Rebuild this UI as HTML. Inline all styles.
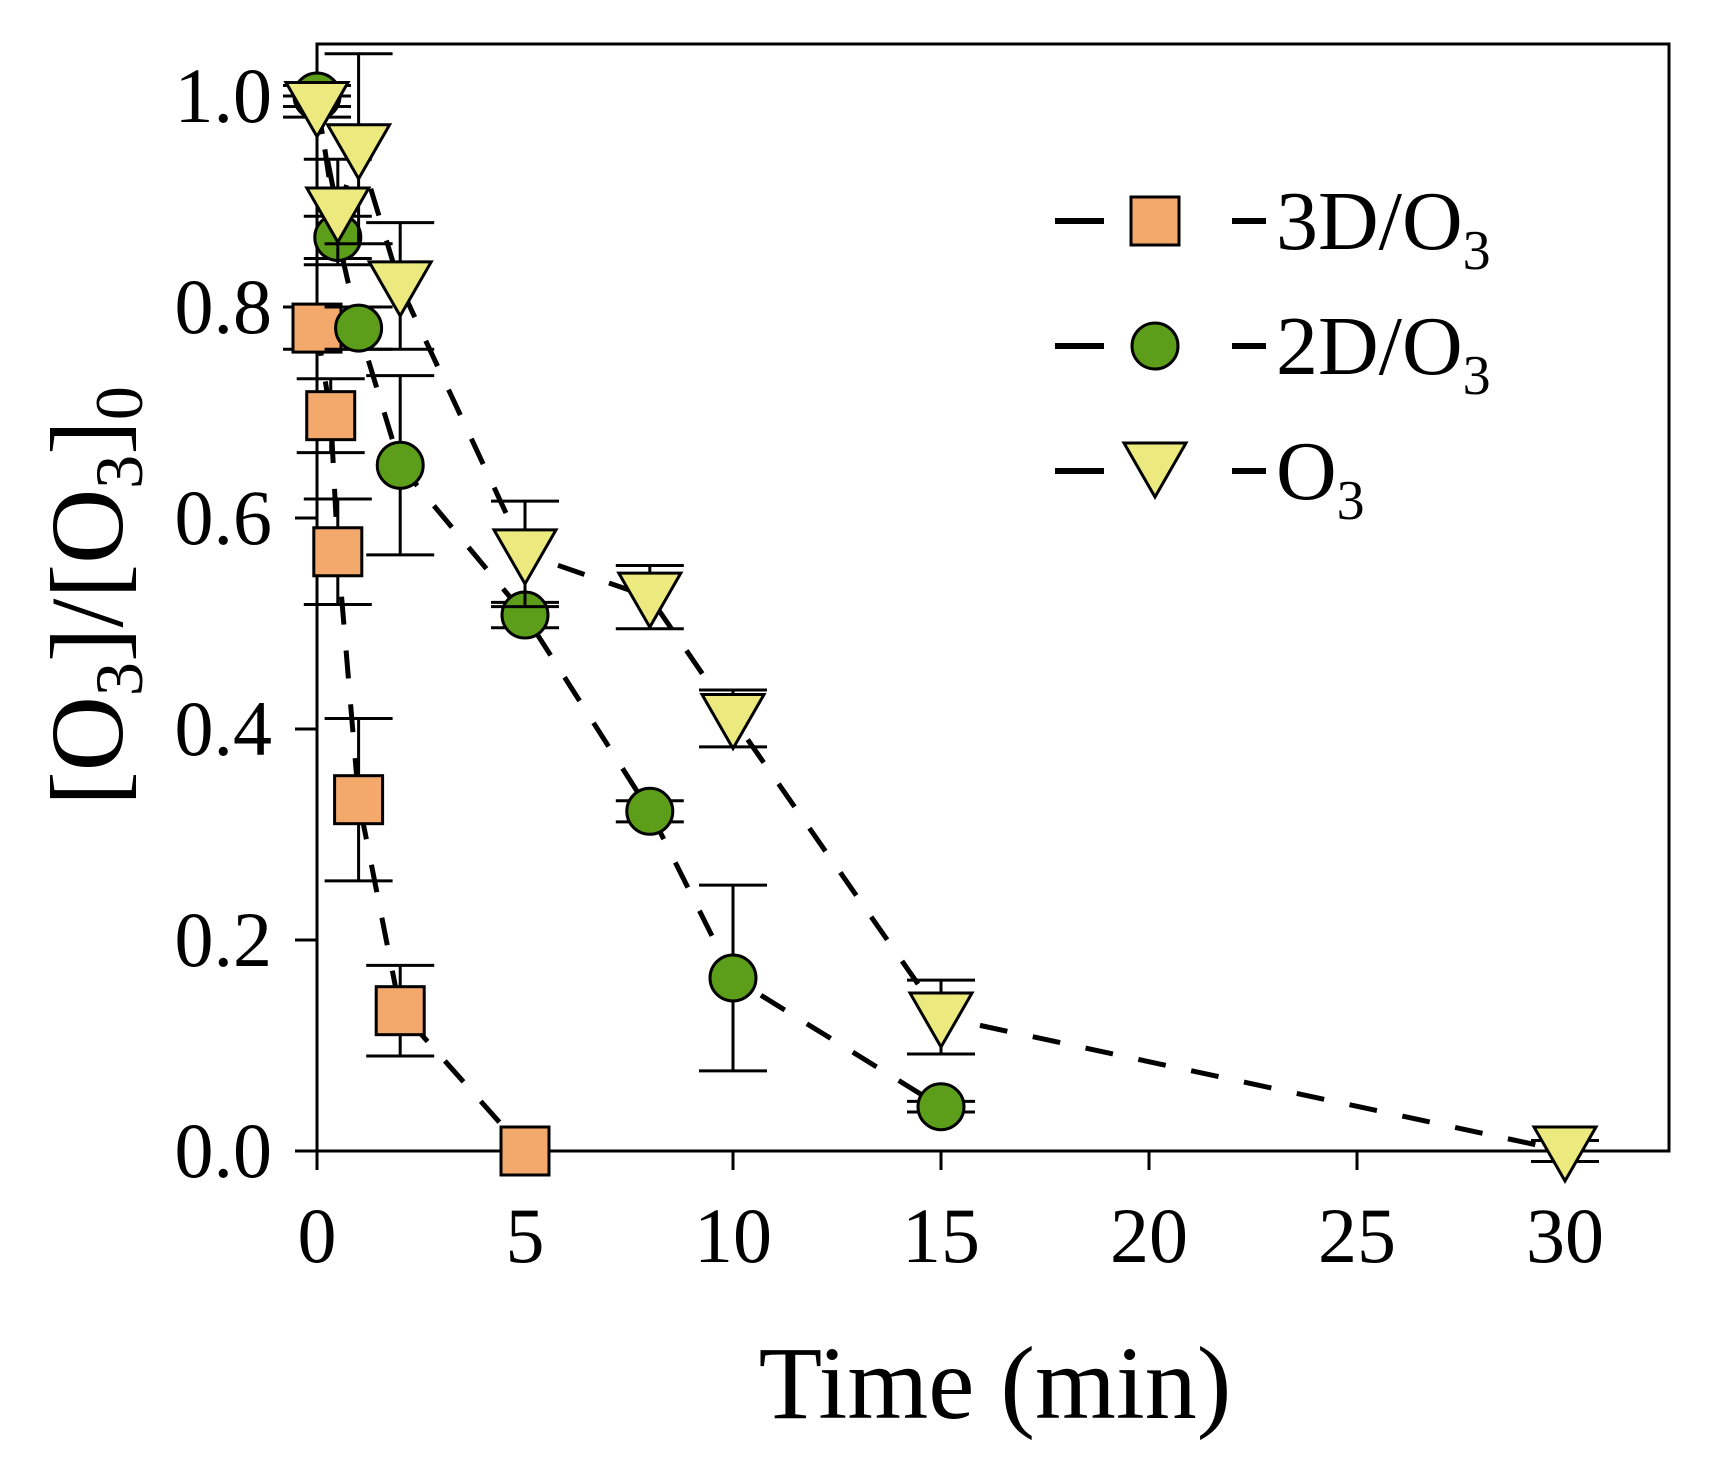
<!DOCTYPE html>
<html><head><meta charset="utf-8"><style>body{margin:0;background:#fff}svg{display:block}</style></head>
<body>
<svg width="1713" height="1457" viewBox="0 0 1713 1457" xmlns="http://www.w3.org/2000/svg" font-family="Liberation Serif, serif">
<g id="axes"></g>
<g id="series"></g>
<g id="legend"></g>
<text x="995" y="1418" font-size="104" text-anchor="middle">Time (min)</text>
<text transform="translate(122,596) rotate(-90)" font-size="104" text-anchor="middle">[O<tspan font-size="68" dy="20">3</tspan><tspan dy="-20">]/[O</tspan><tspan font-size="68" dy="20">3</tspan><tspan dy="-20">]</tspan><tspan font-size="68" dy="20">0</tspan></text>
<script>
const xTicks=[0,5,10,15,20,25,30];
const yTicks=[0,0.2,0.4,0.6,0.8,1.0];
const t3D=[0,0.33,0.5,1,2,5];
const v3D=[0.78,0.697,0.568,0.333,0.133,0];
const e3D=[0.02,0.035,0.05,0.077,0.043,0];
const t2D=[0,0.5,1,2,5,8,10,15];
const v2D=[1.0,0.866,0.78,0.65,0.508,0.322,0.164,0.042];
const e2D=[0.01,0.02,0.02,0.085,0.012,0.01,0.088,0.005];
const tO3=[0,0.5,1,2,5,8,10,15,30];
const vO3=[0.99,0.89,0.95,0.82,0.566,0.525,0.41,0.127,0];
const eO3=[0.01,0.05,0.09,0.06,0.05,0.03,0.027,0.035,0.01];
const NS='http://www.w3.org/2000/svg';
const X=t=>317+t*(1565-317)/30;
const Y=v=>1151-v*(1151-96);
function mk(tag,attrs,parent){const e=document.createElementNS(NS,tag);for(const k in attrs)e.setAttribute(k,attrs[k]);parent.appendChild(e);return e;}
const ax=document.getElementById('axes');
let f=mk('rect',{x:317,y:44,width:1352,height:1107,fill:'none',stroke:'#000','stroke-width':3},ax);


xTicks.forEach(t=>{
 let l=mk('line',{x1:X(t),x2:X(t),y1:1151,y2:1170,stroke:'#000','stroke-width':3},ax);
 
 
 let tx=mk('text',{x:X(t),y:1262,'font-size':78,'text-anchor':'middle'},ax);tx.textContent=t;
 
 
});
yTicks.forEach(v=>{
 let l=mk('line',{x1:295,x2:317,y1:Y(v),y2:Y(v),stroke:'#000','stroke-width':3},ax);
 
 
 let tx=mk('text',{x:272,y:Y(v)+26,'font-size':78,'text-anchor':'end'},ax);tx.textContent=v.toFixed(1);
 
 
});
const sg=document.getElementById('series');
function marker(shape,cx,cy,fill,g){
 if(shape==='sq')return mk('rect',{x:cx-24,y:cy-24,width:48,height:48,fill:fill,stroke:'#000','stroke-width':3},g);
 if(shape==='ci')return mk('circle',{cx:cx,cy:cy,r:23,fill:fill,stroke:'#000','stroke-width':3},g);
 return mk('polygon',{points:`${cx-31},${cy-24} ${cx+31},${cy-24} ${cx},${cy+30}`,fill:fill,stroke:'#000','stroke-width':3},g);
}
function series(name,ts,vs,es,shape,fill){
 const g=mk('g',{},sg);
 
 
 let p=mk('polyline',{points:ts.map((t,i)=>X(t)+','+Y(vs[i])).join(' '),fill:'none',stroke:'#000','stroke-width':5,'stroke-dasharray':'28,26'},g);
 
 
 ts.forEach((t,i)=>{
  const x=X(t),y1=Y(vs[i]+es[i]),y2=Y(vs[i]-es[i]);
  const eb=mk('path',{d:`M${x},${y1}V${y2}M${x-34},${y1}H${x+34}M${x-34},${y2}H${x+34}`,stroke:'#000','stroke-width':3,fill:'none'},g);
  
  
 });
 ts.forEach((t,i)=>{
  const m=marker(shape,X(t),Y(vs[i]),fill,g);
  
  
 });
}
series('3d-o3',t3D,v3D,e3D,'sq','#f4a96c');
series('2d-o3',t2D,v2D,e2D,'ci','#5c9e1a');
series('o3',tO3,vO3,eO3,'tr','#ecea7e');
const lg=document.getElementById('legend');
[['sq','#f4a96c','3D/O'],['ci','#5c9e1a','2D/O'],['tr','#ecea7e','O']].forEach((d,i)=>{
 const y=221+i*125;
 const g=mk('g',{},lg);
 
 
 mk('path',{d:`M1055,${y}H1104M1232,${y}H1266`,stroke:'#000','stroke-width':6},g);
 marker(d[0],1155,d[0]==='tr'?y-4:y,d[1],g);
 const t=mk('text',{x:1276,y:y+28,'font-size':84},g);
 t.appendChild(document.createTextNode(d[2]));
 const s=mk('tspan',{'font-size':56,dy:20},t);
 s.textContent='3';
});
</script>
</svg>
</body></html>
